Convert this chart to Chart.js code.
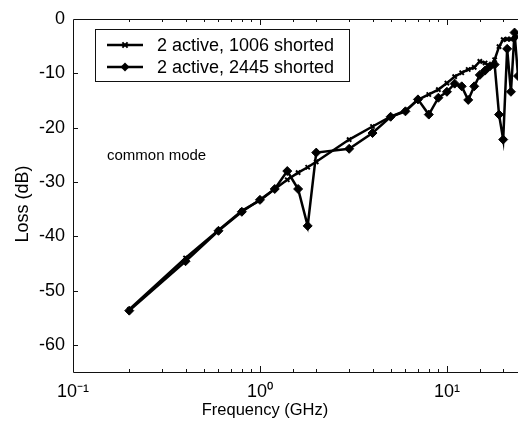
<!DOCTYPE html>
<html><head><meta charset="utf-8">
<script src="https://cdn.jsdelivr.net/npm/chart.js@4.4.1/dist/chart.umd.min.js"></script>
<style>html,body{margin:0;padding:0;background:#fff;overflow:hidden}#wrap{width:518px;height:429px;position:relative}</style>
</head><body><div id="wrap"><canvas id="c" width="518" height="429"></canvas></div>
<script>
const freqs1 = [0.2,0.4,0.6,0.8,1.0,1.2,1.4,1.6,1.8,2.0,3,4,5,6,7,8,9,10,11,12,13,14,15,16,17,18,19,20,21,22,23,24];
const loss1  = [-53.5,-44.0,-38.9,-35.3,-33.4,-31.3,-29.6,-28.3,-27.3,-26.3,-22.2,-19.8,-18.0,-16.9,-14.9,-13.9,-13.0,-11.8,-10.6,-9.9,-9.3,-8.9,-7.8,-8.1,-8.7,-7.5,-5.1,-3.8,-3.7,-3.7,-3.5,-3.3];
const freqs2 = [0.2,0.4,0.6,0.8,1.0,1.2,1.4,1.6,1.8,2.0,3,4,5,6,7,8,9,10,11,12,13,14,15,16,17,18,19,20,21,22,23,24];
const loss2  = [-53.7,-44.6,-39.0,-35.5,-33.3,-31.3,-28.0,-31.3,-38.1,-24.6,-23.9,-21.0,-18.0,-17.0,-14.8,-17.6,-14.5,-13.4,-11.9,-12.4,-14.9,-12.4,-10.3,-9.5,-8.7,-8.4,-17.6,-22.2,-5.5,-13.4,-2.5,-10.5];
const seriesLabels = ['2 active, 1006 shorted','2 active, 2445 shorted'];
const xTickValues = [0.1, 1, 10];
const xTickLabels = ['10\u207B\u00B9','10\u2070','10\u00B9'];
const yTickValues = [0,-10,-20,-30,-40,-50,-60];
const annotationText = 'common mode';
const xTitle = 'Frequency (GHz)';
const yTitle = 'Loss (dB)';

const FAMILY = '"Liberation Sans", Arial, Helvetica, sans-serif';
const pts = (xs, ys) => xs.map((v,i)=>({x:v, y:ys[i]}));
const isPow10 = v => Math.abs(Math.log10(v) - Math.round(Math.log10(v))) < 1e-6;

function drawMarker(ctx, style, x, y){
  ctx.save();
  ctx.fillStyle='#000'; ctx.strokeStyle='#000';
  if(style==='diamond'){
    const r=4.5;
    ctx.beginPath(); ctx.moveTo(x,y-r); ctx.lineTo(x+r,y); ctx.lineTo(x,y+r); ctx.lineTo(x-r,y); ctx.closePath(); ctx.fill();
  } else {
    const r=2.6; ctx.lineWidth=2;
    ctx.beginPath(); ctx.moveTo(x-r,y-r); ctx.lineTo(x+r,y+r); ctx.moveTo(x+r,y-r); ctx.lineTo(x-r,y+r); ctx.stroke();
  }
  ctx.restore();
}

const overlay = {
  id:'overlay',
  beforeDatasetsDraw(chart){
    const {ctx, chartArea:a, scales:{x,y}} = chart;
    ctx.save();
    ctx.strokeStyle='#111'; ctx.lineWidth=1;
    ctx.beginPath();
    ctx.moveTo(a.right+5, a.top+0.5); ctx.lineTo(a.left+0.5, a.top+0.5);
    ctx.lineTo(a.left+0.5, a.bottom+0.5); ctx.lineTo(a.right+5, a.bottom+0.5);
    ctx.stroke();
    ctx.beginPath();
    x.ticks.forEach(t=>{
      const px = Math.round(x.getPixelForValue(t.value))+0.5;
      if(px < a.left+1 || px > a.right) return;
      const L = isPow10(t.value) ? 6 : 3;
      ctx.moveTo(px, a.bottom); ctx.lineTo(px, a.bottom-L);
      ctx.moveTo(px, a.top); ctx.lineTo(px, a.top+L);
    });
    yTickValues.forEach(v=>{
      const py = Math.round(y.getPixelForValue(v))+0.5;
      if(py <= a.top+1) return;
      ctx.moveTo(a.left, py); ctx.lineTo(a.left+5, py);
    });
    ctx.stroke();
    ctx.restore();
  },
  afterDraw(chart){
    const {ctx} = chart;
    ctx.save();
    const bx=95.5, by=29.5, bw=254, bh=52;
    ctx.fillStyle='#fff'; ctx.fillRect(bx,by,bw,bh);
    ctx.strokeStyle='#111'; ctx.lineWidth=1; ctx.strokeRect(bx,by,bw,bh);
    const rows=[45,67], styles=['cross','diamond'];
    ctx.font='18px '+FAMILY; ctx.textBaseline='middle'; ctx.textAlign='left'; ctx.fillStyle='#000';
    rows.forEach((ry,i)=>{
      ctx.strokeStyle='#000'; ctx.lineWidth=2.5;
      ctx.beginPath(); ctx.moveTo(107,ry); ctx.lineTo(143,ry); ctx.stroke();
      drawMarker(ctx, styles[i], 125, ry);
      ctx.fillText(seriesLabels[i], 157, ry+1);
    });
    ctx.font='15px '+FAMILY; ctx.fillText(annotationText, 107, 156);
    ctx.font='16.5px '+FAMILY; ctx.textAlign='center'; ctx.fillText(xTitle, 265, 410);
    ctx.translate(23, 204); ctx.rotate(-Math.PI/2);
    ctx.font='18px '+FAMILY; ctx.fillText(yTitle, 0, 0);
    ctx.restore();
  }
};

new Chart(document.getElementById('c'), {
  type:'line',
  data:{ datasets:[
    { label:seriesLabels[0], data:pts(freqs1,loss1), borderColor:'#000', backgroundColor:'#000', borderWidth:2.5,
      pointStyle:'crossRot', pointRadius:3, pointBorderWidth:2, pointBorderColor:'#000', pointBackgroundColor:'#000', tension:0 },
    { label:seriesLabels[1], data:pts(freqs2,loss2), borderColor:'#000', backgroundColor:'#000', borderWidth:2.5,
      pointStyle:'rectRot', pointRadius:4.5, pointBorderWidth:1, pointBorderColor:'#000', pointBackgroundColor:'#000', tension:0 }
  ]},
  options:{
    responsive:false, animation:false, devicePixelRatio:1,
    layout:{ autoPadding:false, padding:{top:19, left:0, right:0, bottom:0} },
    plugins:{ legend:{display:false}, tooltip:{enabled:false} },
    scales:{
      x:{ type:'logarithmic', min:0.1, max:24,
        grid:{display:false, drawTicks:true, tickLength:9}, border:{display:false},
        ticks:{ autoSkip:false, maxRotation:0, minRotation:0, padding:0, color:'#000', font:{size:18, family:FAMILY},
          callback:(v)=>{ const i = xTickValues.findIndex(t=>Math.abs(t-v)<1e-9*Math.max(1,v)); return i>=0 ? xTickLabels[i] : ''; } },
        afterFit(s){ s.height = 57; } },
      y:{ type:'linear', min:-65, max:0,
        afterBuildTicks(s){ s.ticks = yTickValues.slice().reverse().map(v=>({value:v})); },
        grid:{display:false, drawTicks:true, tickLength:8}, border:{display:false},
        ticks:{ padding:0, color:'#000', font:{size:18, family:FAMILY}, callback:(v)=>String(v) },
        afterFit(s){ s.width = 73; } }
    }
  },
  plugins:[overlay]
});
</script></body></html>
